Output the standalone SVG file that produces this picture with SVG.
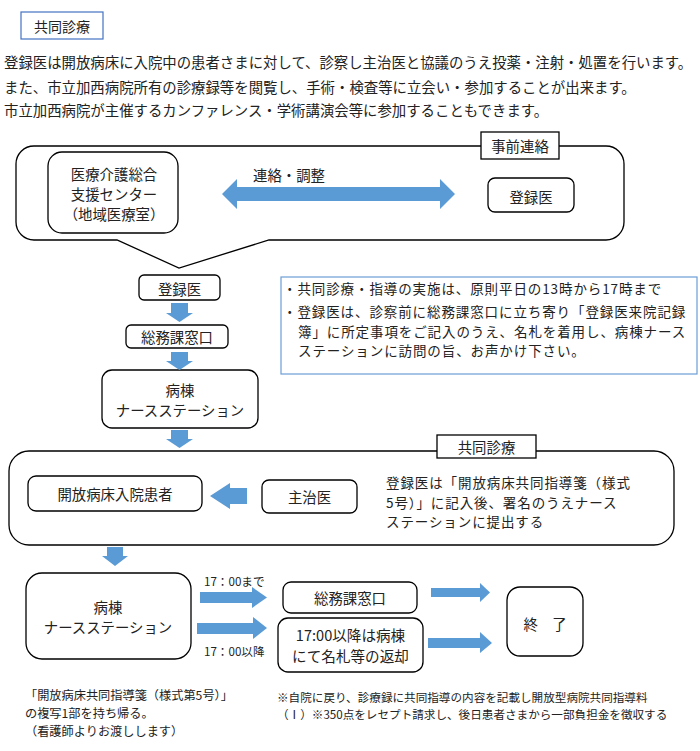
<svg xmlns="http://www.w3.org/2000/svg" width="700" height="751" viewBox="0 0 700 751">
<style>
text { font-family: "Noto Sans CJK JP", "Noto Sans CJK SC", sans-serif; fill: #222; dominant-baseline: central; }
.box { fill: #fff; stroke: #000; stroke-width: 1.3; }
.arr { fill: #5b9bd5; }
.c { text-anchor: middle; }
.f14 { font-size: 14.4px; }
.m14 { font-size: 13.5px; letter-spacing: 0.9px; }
.f12 { font-size: 12.2px; }
.f11 { font-size: 11.6px; }
</style>
<rect width="700" height="751" fill="#fff"/>

<g id="title">
  <rect x="21" y="12" width="82" height="27" fill="#fff" stroke="#4472c4" stroke-width="1.2"/>
  <text x="62" y="26" class="c" font-size="14">共同診療</text>
</g>

<g id="intro" class="f14">
  <text x="4" y="61">登録医は開放病床に入院中の患者さまに対して、診察し主治医と協議のうえ投薬・注射・処置を行います。</text>
  <text x="4" y="86">また、市立加西病院所有の診療録等を閲覧し、手術・検査等に立会い・参加することが出来ます。</text>
  <text x="4" y="109">市立加西病院が主催するカンファレンス・学術講演会等に参加することもできます。</text>
</g>

<g id="prior-contact">
  <path class="box" d="M34,146 H606 A18,18 0 0 1 624,164 V222 A18,18 0 0 1 606,240 H269 L179,268 L117,240 H34 A18,18 0 0 1 16,222 V164 A18,18 0 0 1 34,146 Z"/>
  <rect class="box" x="481" y="132" width="78" height="27"/>
  <text x="520" y="145.5" class="c f14">事前連絡</text>
</g>

<g id="support-center">
  <rect class="box" x="48" y="152" width="130" height="81" rx="14"/>
  <text x="114" y="173" class="c f14">医療介護総合</text>
  <text x="114" y="193" class="c f14">支援センター</text>
  <text x="114" y="213" class="c f14">（地域医療室）</text>
</g>

<g id="doctor-top">
  <rect class="box" x="488" y="178" width="86" height="34" rx="7"/>
  <text x="531" y="196" class="c f14">登録医</text>
</g>

<g id="doctor">
  <rect class="box" x="139" y="275" width="81" height="25" rx="5"/>
  <text x="179.5" y="288" class="c f14">登録医</text>
</g>

<g id="general-affairs">
  <rect class="box" x="126" y="325" width="102" height="23" rx="5"/>
  <text x="177" y="336.5" class="c f14">総務課窓口</text>
</g>

<g id="nurse-station">
  <rect class="box" x="102" y="370" width="156" height="58" rx="10"/>
  <text x="180" y="389" class="c f14">病棟</text>
  <text x="180" y="409" class="c f14">ナースステーション</text>
</g>

<g id="info">
  <rect x="281" y="277" width="416" height="97" fill="#fff" stroke="#6c9fd6" stroke-width="1.2"/>
  <text x="283" y="288" class="m14">・共同診療・指導の実施は、原則平日の13時から17時まで</text>
  <text x="283" y="311" class="m14">・登録医は、診察前に総務課窓口に立ち寄り「登録医来院記録</text>
  <text x="298" y="330.5" class="m14">簿」に所定事項をご記入のうえ、名札を着用し、病棟ナース</text>
  <text x="298" y="350" class="m14">ステーションに訪問の旨、お声かけ下さい。</text>
</g>

<g id="joint-care">
  <rect class="box" x="9" y="451" width="665" height="94" rx="20"/>
  <rect class="box" x="437" y="435" width="99" height="23"/>
  <text x="486.5" y="446.5" class="c f14">共同診療</text>
  <text x="386" y="482" class="m14">登録医は「開放病床共同指導箋（様式</text>
  <text x="386" y="501.5" class="m14">5号）」に記入後、署名のうえナース</text>
  <text x="386" y="521" class="m14">ステーションに提出する</text>
</g>

<g id="patient">
  <rect class="box" x="28" y="476" width="174" height="35" rx="8"/>
  <text x="115" y="493" class="c f14">開放病床入院患者</text>
</g>

<g id="attending">
  <rect class="box" x="262" y="480" width="95" height="33" rx="7"/>
  <text x="309.5" y="496.5" class="c f14">主治医</text>
</g>

<g id="nurse-station-2">
  <rect class="box" x="26" y="573" width="165" height="86" rx="16"/>
  <text x="108" y="606" class="c f14">病棟</text>
  <text x="108" y="626" class="c f14">ナースステーション</text>
</g>

<g id="general-affairs-2">
  <rect class="box" x="283" y="582" width="134" height="31" rx="8"/>
  <text x="350" y="597.5" class="c f14">総務課窓口</text>
</g>

<g id="after-17">
  <rect class="box" x="278" y="618" width="145" height="54" rx="10"/>
  <text x="350.5" y="634.5" class="c" font-size="14.6">17:00以降は病棟</text>
  <text x="350.5" y="655" class="c" font-size="14.6">にて名札等の返却</text>
</g>

<g id="end">
  <rect class="box" x="507" y="587" width="76" height="69" rx="13"/>
  <text x="545" y="623" class="c f14">終　了</text>
</g>

<g id="connectors">
  <polygon class="arr" points="222,194 237,179 237,187 440,187 440,179 455,194 440,209 440,201 237,201 237,209"/>
  <text x="253" y="174" class="f14">連絡・調整</text>
  <polygon class="arr" points="171,303 188,303 188,313 193,313 179.5,322 166,313 171,313"/>
  <polygon class="arr" points="171,352 188,352 188,361 193,361 179.5,370 166,361 171,361"/>
  <polygon class="arr" points="171,430 188,430 188,439 193,439 179.5,448 166,439 171,439"/>
  <polygon class="arr" points="247,488 247,504 230,504 230,509 210,496 230,483 230,488"/>
  <polygon class="arr" points="107,547 123,547 123,556 128,556 115,566 102,556 107,556"/>
  <polygon class="arr" points="200,592 252,592 252,587 267,597.5 252,608 252,603 200,603"/>
  <polygon class="arr" points="197,623 253,623 253,617 267,628 253,639 253,634 197,634"/>
  <polygon class="arr" points="431,588 480,588 480,583 490,592.5 480,602 480,597 431,597"/>
  <polygon class="arr" points="428,638 480,638 480,632 492,643 480,653 480,648 428,648"/>
  <text x="204" y="581" class="f11">17：00まで</text>
  <text x="204" y="651" class="f11">17：00以降</text>
</g>

<g id="notes">
  <text x="25" y="695" class="f12">「開放病床共同指導箋（様式第5号）」</text>
  <text x="25" y="713" class="f12">の複写1部を持ち帰る。</text>
  <text x="25" y="731" class="f12">（看護師よりお渡しします）</text>
  <text x="277" y="697" class="f11">※自院に戻り、診療録に共同指導の内容を記載し開放型病院共同指導料</text>
  <text x="277" y="714" class="f11">（Ⅰ）※350点をレセプト請求し、後日患者さまから一部負担金を徴収する</text>
</g>
</svg>
